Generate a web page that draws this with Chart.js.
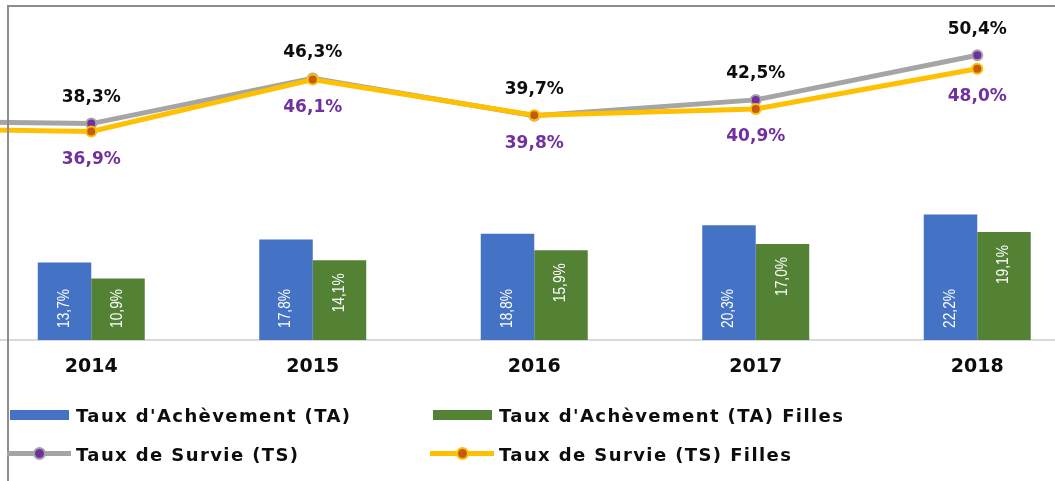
<!DOCTYPE html>
<html lang="fr">
<head>
<meta charset="utf-8">
<title>Taux d'Achèvement et Taux de Survie</title>
<script src="https://cdn.jsdelivr.net/npm/chart.js@4.4.0/dist/chart.umd.min.js"></script>
<style>
  body {
    margin: 0;
    background: #fff;
  }
  #wrap {
    position: relative;
    width: 1055px;
    height: 481px;
    overflow: hidden;
    background: #fff;
  }
  /* le graphique d'origine est rogné : le canvas déborde à gauche et en haut */
  #chart {
    position: absolute;
    left: -248px;
    top: -6px;
  }
  #frame {
    position: absolute;
    left: 7px;
    top: 5px;
    right: 0;
    bottom: 0;
    border-left: 2px solid #8c8c8c;
    border-top: 2px solid #8c8c8c;
    pointer-events: none;
  }
  #legend {
    position: absolute;
    left: 7px;
    top: 405px;
    display: grid;
    grid-template-columns: 423px auto;
    grid-auto-rows: 20px;
    row-gap: 19px;
    font-family: "DejaVu Sans", sans-serif;
    font-weight: bold;
    font-size: 18px;
    letter-spacing: 1.4px;
    color: #0d0d0d;
  }
  .item {
    display: flex;
    align-items: center;
    white-space: nowrap;
  }
  .swatch {
    position: relative;
    width: 69px;
    height: 20px;
    flex: none;
  }
  .swatch .bar {
    position: absolute;
    left: 3px;
    top: 5px;
    width: 59px;
    height: 10px;
  }
  .swatch .line {
    position: absolute;
    left: 0;
    top: 7px;
    width: 64px;
    height: 5px;
  }
  .swatch .dot {
    position: absolute;
    left: 26px;
    top: 3px;
    width: 9px;
    height: 9px;
    border-radius: 50%;
    border: 2px solid;
  }
</style>
</head>
<body>
<div id="wrap">
  <canvas id="chart" width="1343" height="388"></canvas>
  <div id="frame"></div>
  <div id="legend"></div>
</div>
<script>
// 2013 n'est pas visible (coupé à gauche), seul le début de la courbe apparaît
const years = ["2013", "2014", "2015", "2016", "2017", "2018"];
const tauxAchevement = [null, 13.7, 17.8, 18.8, 20.3, 22.2];
const tauxAchevementFilles = [null, 10.9, 14.1, 15.9, 17.0, 19.1];
const tauxSurvie = [38.8, 38.3, 46.3, 39.7, 42.5, 50.4];
const tauxSurvieFilles = [37.5, 36.9, 46.1, 39.8, 40.9, 48.0];
const yMin = 0;
const yMax = 60;

function fmt(v) {
  return v.toFixed(1).replace(".", ",") + "%";
}

// étiquettes de valeurs (barres verticales en blanc, courbes au-dessus / en dessous)
const valueLabels = {
  id: "valueLabels",
  afterDatasetsDraw(chart) {
    const ctx = chart.ctx;
    const base = chart.scales.y.getPixelForValue(0);
    chart.data.datasets.forEach((ds, di) => {
      const meta = chart.getDatasetMeta(di);
      meta.data.forEach((el, i) => {
        const v = ds.data[i];
        if (v === null || i === 0) {
          return;
        }
        const txt = fmt(v);
        ctx.save();
        if (ds.type === "line") {
          ctx.font = "bold 17px 'DejaVu Sans'";
          ctx.textAlign = "center";
          ctx.textBaseline = "middle";
          ctx.fillStyle = ds.labelColor;
          const dy = ds.labelPos === "above" ? -26 : 28;
          ctx.fillText(txt, el.x, el.y + dy);
        } else {
          // police étroite façon Calibri : Liberation Sans compressée
          ctx.font = "16px 'Liberation Sans'";
          ctx.fillStyle = "#fff";
          ctx.textBaseline = "middle";
          const sx = 0.86;
          const w = ctx.measureText(txt).width * sx;
          const h = base - el.y;
          if (ds.labelPos === "end" && w + 26 <= h) {
            ctx.translate(el.x, el.y + 13);
            ctx.rotate(-Math.PI / 2);
            ctx.scale(sx, 1);
            ctx.textAlign = "right";
          } else {
            ctx.translate(el.x, base - 12);
            ctx.rotate(-Math.PI / 2);
            ctx.scale(sx, 1);
            ctx.textAlign = "left";
          }
          ctx.fillText(txt, 0, 0);
        }
        ctx.restore();
      });
    });
  },
};

const chart = new Chart(document.getElementById("chart"), {
  type: "bar",
  data: {
    labels: years,
    datasets: [
      {
        label: "Taux d'Achèvement (TA)",
        data: tauxAchevement,
        backgroundColor: "#4472C4",
        labelPos: "base",
        order: 3,
      },
      {
        label: "Taux d'Achèvement (TA) Filles",
        data: tauxAchevementFilles,
        backgroundColor: "#548235",
        labelPos: "end",
        order: 3,
      },
      {
        type: "line",
        label: "Taux de Survie (TS)",
        data: tauxSurvie,
        borderColor: "#A5A5A5",
        borderWidth: 5,
        pointBackgroundColor: "#7030A0",
        pointBorderColor: "#A5A5A5",
        pointBorderWidth: 2,
        pointRadius: 5,
        labelPos: "above",
        labelColor: "#0d0d0d",
        order: 2,
      },
      {
        type: "line",
        label: "Taux de Survie (TS) Filles",
        data: tauxSurvieFilles,
        borderColor: "#FFC000",
        borderWidth: 5,
        pointBackgroundColor: "#C55A11",
        pointBorderColor: "#FFC000",
        pointBorderWidth: 2,
        pointRadius: 5,
        labelPos: "below",
        labelColor: "#7030A0",
        order: 1,
      },
    ],
  },
  options: {
    responsive: false,
    animation: false,
    layout: { padding: 0 },
    datasets: {
      bar: { categoryPercentage: 0.483, barPercentage: 1 },
    },
    scales: {
      x: {
        offset: true,
        grid: { display: false, drawTicks: false },
        border: { color: "#d9d9d9", width: 2 },
        ticks: {
          autoSkip: false,
          maxRotation: 0,
          padding: 16,
          color: "#0d0d0d",
          font: { family: "'DejaVu Sans'", size: 19, weight: "bold" },
          callback: (value, index) => (index === 0 ? "" : years[index]),
        },
        afterFit: (scale) => {
          scale.height = 42;
        },
      },
      y: {
        display: false,
        min: yMin,
        max: yMax,
      },
    },
    plugins: {
      legend: { display: false },
      tooltip: { enabled: false },
    },
  },
  plugins: [valueLabels],
});

// légende en HTML : deux colonnes, barres puis courbes
const legend = document.getElementById("legend");
chart.data.datasets.forEach((ds) => {
  const item = document.createElement("div");
  item.className = "item";
  const sw = document.createElement("div");
  sw.className = "swatch";
  if (ds.type === "line") {
    const line = document.createElement("div");
    line.className = "line";
    line.style.background = ds.borderColor;
    const dot = document.createElement("div");
    dot.className = "dot";
    dot.style.background = ds.pointBackgroundColor;
    dot.style.borderColor = ds.pointBorderColor;
    sw.appendChild(line);
    sw.appendChild(dot);
  } else {
    const bar = document.createElement("div");
    bar.className = "bar";
    bar.style.background = ds.backgroundColor;
    sw.appendChild(bar);
  }
  const label = document.createElement("span");
  label.textContent = ds.label;
  item.appendChild(sw);
  item.appendChild(label);
  legend.appendChild(item);
});
</script>
</body>
</html>
